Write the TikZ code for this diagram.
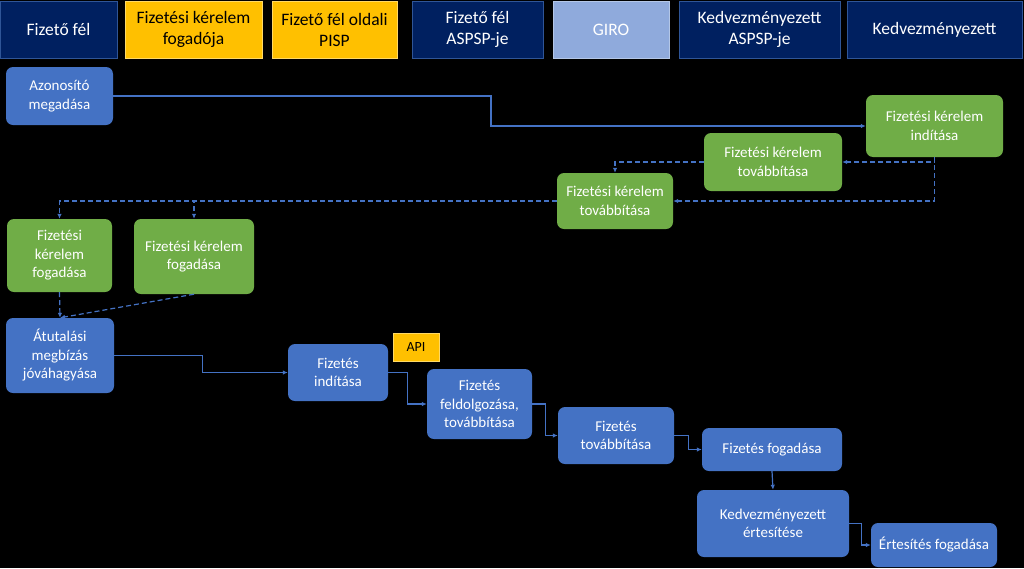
\documentclass[tikz,border=0pt]{standalone}
\usepackage{fontspec}
\setmainfont{Carlito}
\usetikzlibrary{arrows.meta}
\definecolor{navy}{HTML}{002060}
\definecolor{navyline}{HTML}{2F5597}
\definecolor{amber}{HTML}{FFC000}
\definecolor{amberline}{HTML}{FFD966}
\definecolor{giro}{HTML}{8FAADC}
\definecolor{giroline}{HTML}{B4C7E7}
\definecolor{boxblue}{HTML}{4472C4}
\definecolor{boxgreen}{HTML}{70AD47}
\definecolor{flowline}{HTML}{4472C4}

\begin{document}
\begin{tikzpicture}[x=1pt,y=-1pt,
    >={Latex[length=5pt,width=4.5pt]},
    sz/.style 2 args={minimum width=#1pt,minimum height=#2pt},
    hdr/.style={fill=navy,draw=navyline,line width=0.8pt,text=white,align=center,
        font=\fontsize{17.5}{21}\selectfont,inner sep=1pt},
    hdryel/.style={hdr,fill=amber,draw=amberline,text=black},
    hdrgiro/.style={hdr,fill=giro,draw=giroline},
    blu/.style={rounded corners=7pt,fill=boxblue,text=white,align=center,
        font=\fontsize{15}{18.5}\selectfont,inner sep=2pt},
    grn/.style={blu,fill=boxgreen},
    flow/.style={->,draw=flowline,line width=1.2pt},
    dflow/.style={flow,dash pattern=on 5pt off 3pt}]
    \fill[black] (0,0) rectangle (1024,568);
    \useasboundingbox (0,0) rectangle (1024,568);
    % header row
    \node[hdr,sz={117}{57}] (H1) at (58.5,29.5) {Fizető fél};
    \node[hdryel,sz={137}{57}] (H2) at (193.5,29.5) {Fizetési kérelem\\fogadója};
    \node[hdryel,sz={125}{57}] (H3) at (334.5,29.5) {Fizető fél oldali\\PISP};
    \node[hdr,sz={131}{57}] (H4) at (477.5,29.5) {Fizető fél\\ASPSP-je};
    \node[hdrgiro,sz={116}{57}] (H5) at (611,29.5) {GIRO};
    \node[hdr,sz={161}{57}] (H6) at (759.5,29.5) {Kedvezményezett\\ASPSP-je};
    \node[hdr,sz={175}{57}] (H7) at (934.5,29.5) {Kedvezményezett};
    % request part
    \node[blu,sz={107}{58}] (Az) at (59.5,96) {Azonosító\\megadása};
    \node[grn,sz={137}{62}] (Ind) at (934.5,126) {Fizetési kérelem\\indítása};
    \node[grn,sz={138}{58}] (Tov1) at (773,162) {Fizetési kérelem\\továbbítása};
    \node[grn,sz={116}{56}] (Tov2) at (615,201) {Fizetési kérelem\\továbbítása};
    \node[grn,sz={105}{73}] (Fog1) at (59.5,255.5) {Fizetési\\kérelem\\fogadása};
    \node[grn,sz={120}{75}] (Fog2) at (194,256.5) {Fizetési kérelem\\fogadása};
    % payment part
    \node[blu,sz={108}{75}] (Jov) at (60,355.5) {Átutalási\\megbízás\\jóváhagyása};
    \node[hdryel,sz={46}{28},font=\fontsize{14}{17}\selectfont] (API) at (416,347) {API};
    \node[blu,sz={100}{57}] (FInd) at (338,372.5) {Fizetés\\indítása};
    \node[blu,sz={105}{70}] (Feld) at (479.5,404) {Fizetés\\feldolgozása,\\továbbítása};
    \node[blu,sz={116}{57}] (FTov) at (616,435.5) {Fizetés\\továbbítása};
    \node[blu,sz={140}{43}] (FFog) at (772,449.5) {Fizetés fogadása};
    \node[blu,sz={152}{67}] (KErt) at (773,523.5) {Kedvezményezett\\értesítése};
    \node[blu,sz={126}{44}] (EFog) at (934,545) {Értesítés fogadása};
    % connectors
    \draw[flow] (Az.east) -- (491,96) |- (Ind.west);
    \draw[dflow] (Ind.south) |- (Tov1.east);
    \draw[dflow] (Ind.south) |- (Tov2.east);
    \draw[dflow] (Tov1.west) -| (Tov2.north);
    \draw[dflow] (Tov2.west) -| (Fog1.north);
    \draw[dflow] (Tov2.west) -| (Fog2.north);
    \draw[dflow] (Fog1.south) -- (Jov.north);
    \draw[dflow] (Fog2.south) -- (Jov.north);
    \draw[flow] (Jov.east) -- ++(88,0) |- (FInd.west);
    \draw[flow] (FInd.east) -- ++(19,0) |- (Feld.west);
    \draw[flow] (Feld.east) -- ++(13,0) |- (FTov.west);
    \draw[flow] (FTov.east) -- ++(14,0) |- (FFog.west);
    \draw[flow] (FFog.south) -- (KErt.north);
    \draw[flow] (KErt.east) -- ++(12,0) |- (EFog.west);
\end{tikzpicture}
\end{document}
